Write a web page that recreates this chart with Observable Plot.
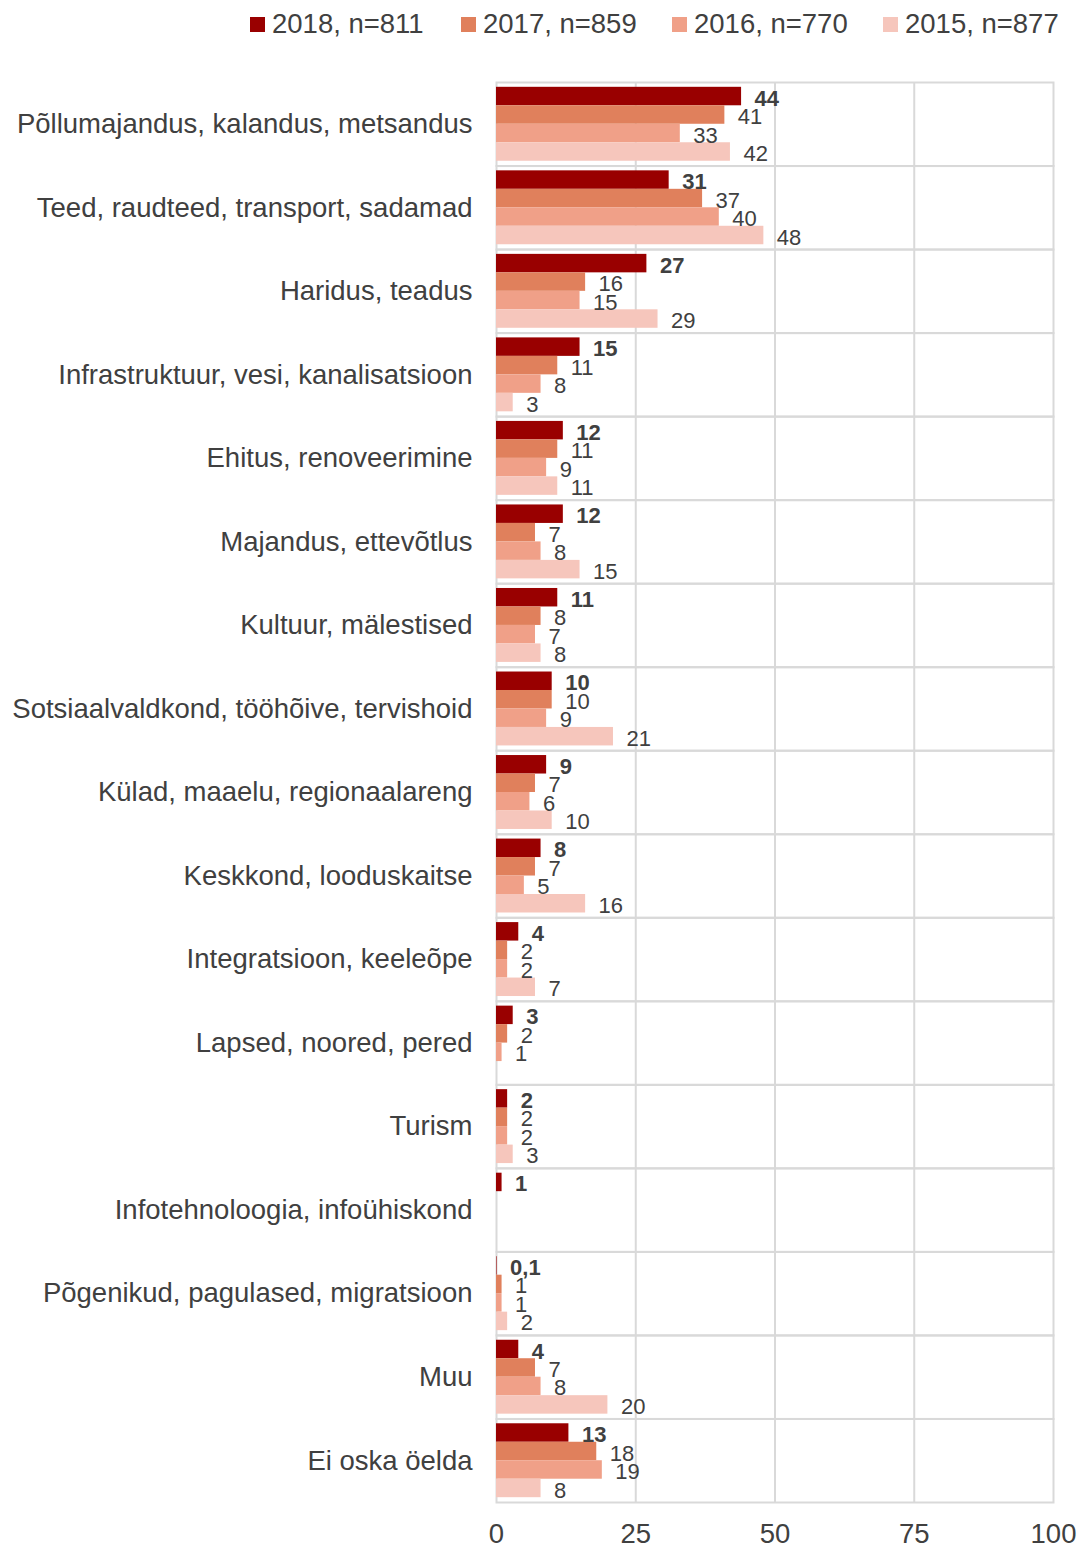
<!DOCTYPE html>
<html>
<head>
<meta charset="utf-8">
<script src="https://cdn.jsdelivr.net/npm/d3@7"></script>
<script src="https://cdn.jsdelivr.net/npm/@observablehq/plot@0.6"></script>
<style>
  html, body { margin: 0; padding: 0; background: #fff; }
  body { width: 1080px; height: 1549px; overflow: hidden; font-family: "Liberation Sans", Arial, sans-serif; color: #404040; }
  #legend { position: relative; height: 50px; }
  .item { position: absolute; top: -1px; height: 50px; display: flex; align-items: center; font-size: 27.5px; color: #404040; white-space: nowrap; }
  .sw { width: 15px; height: 15px; margin-right: 7px; }
  #chart svg { display: block; }
</style>
</head>
<body>
<div id="legend"></div>
<div id="chart"></div>
<script>
const categories = [
  "Põllumajandus, kalandus, metsandus",
  "Teed, raudteed, transport, sadamad",
  "Haridus, teadus",
  "Infrastruktuur, vesi, kanalisatsioon",
  "Ehitus, renoveerimine",
  "Majandus, ettevõtlus",
  "Kultuur, mälestised",
  "Sotsiaalvaldkond, tööhõive, tervishoid",
  "Külad, maaelu, regionaalareng",
  "Keskkond, looduskaitse",
  "Integratsioon, keeleõpe",
  "Lapsed, noored, pered",
  "Turism",
  "Infotehnoloogia, infoühiskond",
  "Põgenikud, pagulased, migratsioon",
  "Muu",
  "Ei oska öelda"
];
const seriesNames = ["2018", "2017", "2016", "2015"];
const seriesN = [811, 859, 770, 877];
const seriesColors = ["#990000", "#e0805c", "#f0a088", "#f6c6bc"];
const v2018 = [44, 31, 27, 15, 12, 12, 11, 10, 9, 8, 4, 3, 2, 1, 0.1, 4, 13];
const v2017 = [41, 37, 16, 11, 11, 7, 8, 10, 7, 7, 2, 2, 2, null, 1, 7, 18];
const v2016 = [33, 40, 15, 8, 9, 8, 7, 9, 6, 5, 2, 1, 2, null, 1, 8, 19];
const v2015 = [42, 48, 29, 3, 11, 15, 8, 21, 10, 16, 7, null, 3, null, 2, 20, 8];
const xTicks = [0, 25, 50, 75, 100];

const seriesValues = [v2018, v2017, v2016, v2015];
const data = [];
categories.forEach((c, i) => {
  seriesNames.forEach((s, j) => {
    data.push({category: c, series: s, value: seriesValues[j][i]});
  });
});

// legend
const legendX = [250, 461, 672, 883];
const legend = document.getElementById("legend");
seriesNames.forEach((s, j) => {
  const it = document.createElement("div");
  it.className = "item";
  it.style.left = legendX[j] + "px";
  const sw = document.createElement("div");
  sw.className = "sw";
  sw.style.background = seriesColors[j];
  it.appendChild(sw);
  const t = document.createElement("span");
  t.textContent = `${s}, n=${seriesN[j]}`;
  it.appendChild(t);
  legend.appendChild(it);
});

const fmt = v => String(v).replace(".", ",");
const grid = "#d9d9d9";

const chart = Plot.plot({
  width: 1080,
  height: 1499,
  marginLeft: 496,
  marginRight: 27,
  marginTop: 32,
  marginBottom: 47,
  style: {fontFamily: "'Liberation Sans', Arial, sans-serif", fontSize: "27.5px", color: "#404040", background: "white"},
  facet: {data, y: "category"},
  fy: {domain: categories, padding: 0, round: false, label: null, tickSize: 0, tickPadding: 24},
  y: {domain: seriesNames, paddingInner: 0, paddingOuter: 0.26, round: false, axis: null},
  x: {domain: [0, 100], ticks: xTicks, tickSize: 0, tickPadding: 21, label: null},
  color: {domain: seriesNames, range: seriesColors},
  marks: [
    Plot.ruleX(xTicks.slice(1, -1), {stroke: grid, strokeWidth: 2}),
    Plot.frame({stroke: grid, strokeWidth: 2}),
    Plot.barX(data, {filter: d => d.value != null, x: "value", y: "series", fill: "series"}),
    Plot.text(data, {filter: d => d.value != null && d.series === "2018", x: "value", y: "series", text: d => fmt(d.value), textAnchor: "start", dx: 13, dy: 2, fontSize: 22, fontWeight: "bold", fill: "#404040"}),
    Plot.text(data, {filter: d => d.value != null && d.series !== "2018", x: "value", y: "series", text: d => fmt(d.value), textAnchor: "start", dx: 13, dy: 2, fontSize: 22, fill: "#404040"})
  ]
});
document.getElementById("chart").appendChild(chart);
</script>
</body>
</html>
